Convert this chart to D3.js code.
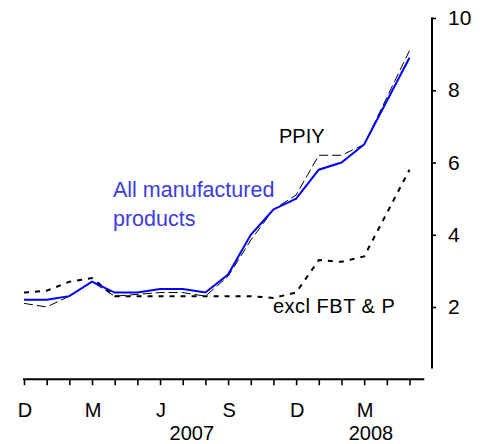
<!DOCTYPE html>
<html>
<head>
<meta charset="utf-8">
<script src="https://cdn.jsdelivr.net/npm/d3@7"></script>
<style>
  body { margin: 0; background: #fff; }
  text { font-family: Arial, "Liberation Sans", sans-serif; }
</style>
</head>
<body>
<div id="chart-area"></div>
<script>
// months Dec 2006 .. May 2008
const months = ["D","J","F","M","A","M","J","J","A","S","O","N","D","J","F","M","A","M"]
const monthLabels = ["D","","","M","","","J","","","S","","","D","","","M","",""]
const years = [{label: "2007", at: 7.4}, {label: "2008", at: 15.3}]

// year-ended % change
const allManufactured = [2.2, 2.2, 2.3, 2.7, 2.4, 2.4, 2.5, 2.5, 2.4, 2.9, 4.0, 4.7, 5.0, 5.8, 6.0, 6.5, 7.7, 8.9]
const ppiy = [2.1, 2.0, 2.3, 2.7, 2.3, 2.35, 2.4, 2.4, 2.3, 2.85, 3.85, 4.7, 5.1, 6.2, 6.2, 6.5, 7.8, 9.1]
const exclFbtP = [2.4, 2.45, 2.7, 2.8, 2.3, 2.3, 2.3, 2.3, 2.3, 2.3, 2.3, 2.25, 2.4, 3.3, 3.25, 3.4, 4.6, 5.8]
const yTicks = [2, 4, 6, 8, 10]

let svg = d3.select("#chart-area").append("svg")
  .attr("width", 486)
  .attr("height", 444)

let x = d3.scaleLinear().domain([0, 17]).range([24, 409.5])
let y = d3.scaleLinear().domain([0, 10]).range([379.25, 18])

// x axis
let xAxis = svg.append("g")
  .attr("transform", "translate(0," + y(0) + ")")
  .call(d3.axisBottom(x).tickValues(d3.range(months.length)).tickSize(6).tickFormat(""))
xAxis.select(".domain").remove()
xAxis.selectAll(".tick line").attr("stroke", "#000").attr("stroke-width", 1.6)
xAxis.append("line")
  .attr("x1", x(0) - 1).attr("x2", x(17.65))
  .attr("stroke", "#000").attr("stroke-width", 2)

svg.selectAll(".mlabel")
  .data(monthLabels)
  .enter().append("text")
    .attr("x", (d, i) => x(i) + 1)
    .attr("y", 417)
    .attr("text-anchor", "middle")
    .attr("font-size", 20)
    .text(d => d)

svg.selectAll(".ylabel")
  .data(years)
  .enter().append("text")
    .attr("x", d => x(d.at))
    .attr("y", 440)
    .attr("text-anchor", "middle")
    .attr("font-size", 20)
    .text(d => d.label)

// y axis on the right
let yAxis = svg.append("g")
  .attr("transform", "translate(432,0)")
  .call(d3.axisRight(y).tickValues(yTicks).tickSize(4).tickPadding(12))
yAxis.select(".domain").remove()
yAxis.selectAll(".tick line").attr("stroke", "#000").attr("stroke-width", 1.6)
yAxis.selectAll(".tick text").attr("font-size", 21).attr("fill", "#000")
  .attr("font-family", "Arial, 'Liberation Sans', sans-serif")
yAxis.append("line")
  .attr("y1", y(0.3)).attr("y2", y(10) - 0.8)
  .attr("stroke", "#000").attr("stroke-width", 2)

// lines
let line = d3.line().x((d, i) => x(i)).y(d => y(d))

svg.append("path")
  .attr("d", line(exclFbtP))
  .attr("fill", "none")
  .attr("stroke", "#000")
  .attr("stroke-width", 2)
  .attr("stroke-dasharray", "5,6")

svg.append("path")
  .attr("d", line(ppiy))
  .attr("fill", "none")
  .attr("stroke", "#000")
  .attr("stroke-width", 1)
  .attr("stroke-dasharray", "9,4")

svg.append("path")
  .attr("d", line(allManufactured))
  .attr("fill", "none")
  .attr("stroke", "#0000ff")
  .attr("stroke-width", 2)

// series labels
svg.append("text")
  .attr("x", 279).attr("y", 143)
  .attr("font-size", 20)
  .text("PPIY")

svg.append("text")
  .attr("x", 113).attr("y", 197)
  .attr("font-size", 21.5)
  .attr("fill", "#3c3cdc")
  .text("All manufactured")
svg.append("text")
  .attr("x", 113).attr("y", 226)
  .attr("font-size", 21.5)
  .attr("fill", "#3c3cdc")
  .text("products")

svg.append("text")
  .attr("x", 273).attr("y", 313)
  .attr("font-size", 20)
  .attr("letter-spacing", 0.5)
  .text("excl FBT & P")
</script>
</body>
</html>
